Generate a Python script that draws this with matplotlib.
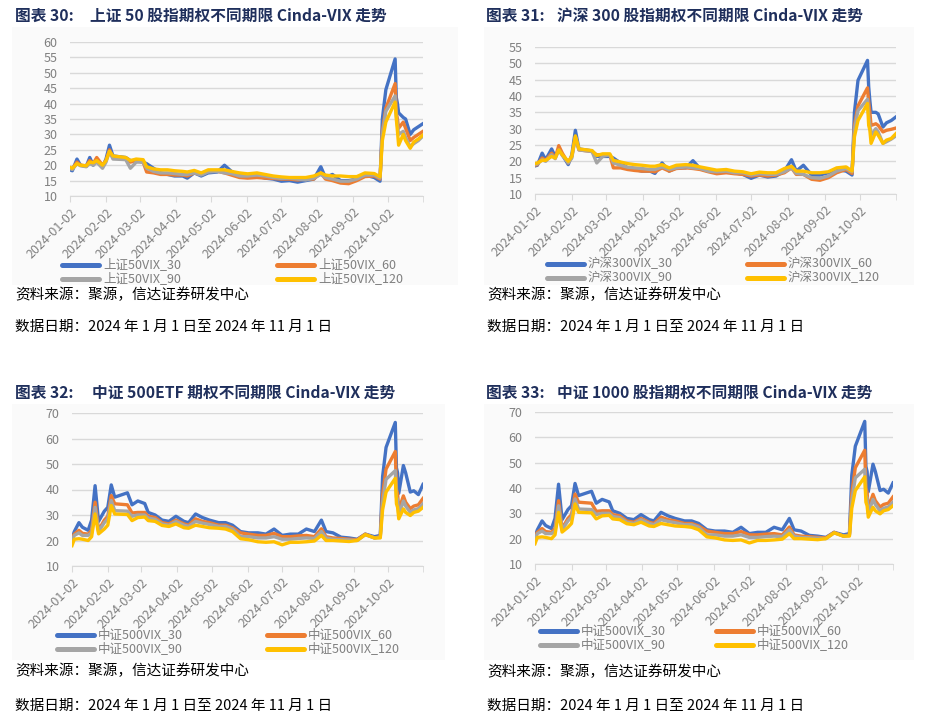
import matplotlib
matplotlib.use("Agg")
import matplotlib.pyplot as plt
import pandas as pd
from matplotlib.lines import Line2D
from matplotlib.patches import Rectangle

plt.rcParams['font.family'] = ['Noto Sans CJK SC', 'DejaVu Sans']

# ---------------- data ----------------
dates = ["2024-01-02", "2024-01-04", "2024-01-08", "2024-01-11", "2024-01-16", "2024-01-19",
         "2024-01-22", "2024-01-25", "2024-01-30", "2024-02-02", "2024-02-05", "2024-02-08",
         "2024-02-19", "2024-02-23", "2024-02-28", "2024-03-05", "2024-03-08", "2024-03-14",
         "2024-03-20", "2024-03-26", "2024-04-01", "2024-04-08", "2024-04-12", "2024-04-18",
         "2024-04-24", "2024-04-30", "2024-05-08", "2024-05-14", "2024-05-20", "2024-05-27",
         "2024-06-03", "2024-06-11", "2024-06-18", "2024-06-25", "2024-07-02", "2024-07-09",
         "2024-07-16", "2024-07-23", "2024-07-30", "2024-08-05", "2024-08-09", "2024-08-15",
         "2024-08-22", "2024-08-29", "2024-09-05", "2024-09-12", "2024-09-20", "2024-09-25",
         "2024-09-27", "2024-09-30", "2024-10-08", "2024-10-09", "2024-10-10", "2024-10-11",
         "2024-10-15", "2024-10-17", "2024-10-21", "2024-10-24", "2024-10-28", "2024-11-01"]

sz50_30 = [18.5, 18.2, 22.0, 20.0, 19.6, 22.5, 20.0, 22.0, 19.5, 22.0, 26.5, 23.0, 22.5, 21.5, 21.5,
           21.0, 20.5, 19.0, 17.5, 17.0, 16.5, 16.5, 15.8, 17.5, 16.5, 17.5, 17.8, 20.0, 18.0, 16.5,
           16.5, 16.5, 15.8, 15.5, 14.8, 15.0, 14.5, 15.0, 15.5, 19.5, 16.0, 17.0, 15.0, 15.0, 15.5,
           16.8, 16.0, 14.8, 35.0, 44.5, 54.5, 42.0, 40.0, 37.0, 35.5, 35.0, 30.0, 31.5, 32.5, 33.5]
sz50_60 = [19.0, 18.8, 21.0, 20.0, 19.8, 21.5, 20.5, 22.5, 20.0, 21.5, 25.0, 22.5, 22.0, 21.0, 21.5,
           21.0, 17.8, 17.5, 17.0, 17.0, 16.8, 16.8, 16.5, 17.5, 17.0, 18.0, 18.0, 17.5, 16.8, 16.0,
           15.8, 16.0, 15.8, 15.7, 15.5, 15.5, 15.2, 15.5, 15.5, 17.5, 15.5, 15.0, 14.2, 14.0, 15.0,
           16.3, 16.5, 15.5, 31.0, 38.5, 46.5, 37.0, 35.0, 32.0, 34.0, 32.0, 28.0, 29.0, 30.0, 31.0]
sz50_90 = [19.0, 18.6, 20.5, 19.8, 19.5, 20.5, 20.0, 21.0, 19.0, 21.0, 24.5, 22.0, 21.8, 19.0, 21.0,
           21.0, 19.0, 18.0, 17.5, 17.5, 17.3, 17.0, 17.0, 17.5, 16.8, 17.8, 18.0, 17.5, 17.3, 16.5,
           16.5, 16.8, 16.5, 16.0, 15.7, 15.8, 15.5, 15.2, 15.8, 17.0, 16.0, 15.5, 14.8, 14.8, 15.5,
           16.8, 16.8, 15.8, 30.0, 37.5, 42.5, 36.0, 33.0, 30.0, 31.0, 29.0, 26.0, 27.0, 28.0, 29.5]
sz50_120 = [19.3, 19.0, 20.5, 20.0, 19.8, 21.0, 20.8, 21.5, 20.0, 21.5, 24.5, 23.0, 22.5, 21.5, 22.0,
            21.8, 19.5, 18.8, 18.5, 18.5, 18.2, 18.0, 17.8, 18.3, 17.5, 18.5, 18.5, 18.5, 18.0, 17.5,
            17.2, 17.5, 17.0, 16.5, 16.2, 16.0, 16.0, 16.0, 16.5, 17.5, 16.8, 16.5, 16.5, 16.3, 16.3,
            17.5, 17.3, 16.2, 28.0, 34.0, 40.5, 35.0, 31.0, 26.5, 30.0, 28.0, 25.5, 27.5, 28.5, 29.8]

hs300_30 = [18.6, 18.8, 22.5, 20.5, 23.8, 21.5, 23.5, 22.0, 19.0, 22.0, 29.5, 23.8, 23.2, 21.5, 21.5,
            21.5, 21.0, 19.5, 18.0, 17.5, 17.0, 17.0, 16.3, 19.5, 17.0, 18.0, 18.0, 20.2, 17.8, 17.0,
            16.8, 17.0, 16.5, 16.0, 14.8, 15.8, 15.2, 15.5, 17.0, 20.5, 17.0, 18.8, 15.8, 15.8, 16.5,
            17.5, 17.0, 15.8, 35.0, 44.8, 50.9, 42.8, 38.5, 35.0, 35.0, 34.5, 30.5, 31.8, 32.5, 33.6]
hs300_60 = [18.8, 19.0, 21.0, 20.3, 22.5, 21.0, 24.8, 22.5, 19.5, 21.5, 27.5, 23.5, 23.0, 22.0, 22.0,
            22.0, 18.0, 18.0, 17.5, 17.2, 17.0, 17.0, 16.8, 18.0, 17.0, 17.8, 18.0, 17.8, 17.5, 16.8,
            16.2, 16.5, 16.2, 16.0, 15.5, 15.8, 15.5, 15.8, 16.5, 18.0, 16.0, 16.0, 14.5, 14.2, 15.0,
            16.5, 17.5, 16.3, 31.0, 37.0, 42.5, 38.0, 35.0, 31.0, 31.5, 31.0, 29.0, 29.5, 29.8, 30.2]
hs300_90 = [19.0, 19.2, 20.5, 20.0, 22.0, 20.8, 23.5, 21.8, 19.5, 21.0, 27.5, 23.5, 23.0, 19.5, 21.5,
            22.0, 19.5, 18.8, 18.2, 18.0, 17.8, 17.5, 17.5, 18.3, 17.5, 18.0, 18.3, 18.0, 17.8, 17.0,
            16.8, 17.0, 16.5, 16.5, 15.8, 16.2, 16.0, 16.0, 16.8, 18.0, 16.3, 16.0, 15.0, 14.8, 15.5,
            17.0, 17.8, 16.8, 30.0, 35.5, 39.0, 34.0, 31.0, 28.0, 30.0, 29.0, 25.5, 26.0, 26.8, 27.8]
hs300_120 = [19.3, 19.5, 20.3, 20.3, 21.5, 21.0, 23.5, 22.0, 20.0, 21.5, 27.8, 23.8, 23.3, 21.8, 22.3,
             22.3, 20.3, 19.8, 19.3, 19.0, 18.8, 18.5, 18.5, 19.0, 18.0, 18.8, 19.0, 18.8, 18.3, 17.8,
             17.3, 17.5, 17.0, 16.8, 16.2, 16.7, 16.5, 16.5, 17.8, 18.5, 17.0, 17.0, 16.5, 16.5, 16.8,
             18.0, 18.3, 17.0, 27.5, 32.5, 37.7, 31.0, 29.5, 25.5, 29.0, 28.0, 25.5, 26.5, 27.0, 28.5]

zz500_30 = [20.7, 23.5, 27.0, 25.2, 24.0, 28.0, 41.5, 27.5, 31.5, 33.0, 41.8, 37.0, 38.7, 34.0, 35.5,
            34.5, 31.0, 30.0, 28.0, 27.5, 29.5, 27.5, 27.0, 30.4, 29.0, 28.0, 27.0, 27.0, 26.0, 23.5,
            23.0, 23.0, 22.5, 24.5, 22.0, 22.5, 22.5, 24.5, 23.5, 28.0, 23.5, 23.0, 21.3, 21.0, 20.5,
            22.5, 21.5, 22.0, 45.0, 56.5, 66.3, 48.5, 46.5, 38.5, 49.4, 46.5, 39.0, 39.5, 38.0, 42.0]
zz500_60 = [21.0, 22.5, 24.0, 22.8, 22.5, 24.0, 35.0, 24.0, 28.0, 29.5, 37.6, 34.4, 34.0, 30.8, 31.0,
            31.0, 29.5, 29.0, 27.0, 26.5, 28.0, 26.5, 26.0, 28.5, 27.5, 27.0, 26.0, 26.0, 25.0, 23.0,
            22.5, 22.0, 22.0, 22.8, 21.5, 21.5, 21.8, 22.0, 21.5, 24.6, 21.5, 21.0, 20.8, 20.5, 20.3,
            22.5, 21.0, 21.5, 38.0, 48.0, 54.9, 40.0, 38.3, 32.0, 37.5, 35.0, 32.5, 33.5, 34.0, 36.5]
zz500_90 = [20.0, 22.0, 23.0, 22.0, 22.0, 23.0, 33.0, 23.5, 27.0, 28.5, 35.7, 31.7, 31.5, 29.5, 30.0,
            30.0, 28.8, 28.3, 26.5, 26.0, 27.5, 26.0, 25.5, 27.5, 26.8, 26.3, 25.5, 25.5, 24.5, 21.5,
            21.5, 21.0, 21.0, 21.5, 20.5, 20.5, 20.8, 21.0, 20.8, 23.5, 21.0, 20.5, 20.3, 20.2, 20.0,
            22.3, 21.0, 21.3, 35.0, 44.0, 47.4, 37.0, 36.0, 30.0, 35.5, 33.5, 31.0, 32.0, 32.5, 34.4]
zz500_120 = [18.0, 20.5, 20.7, 20.5, 20.0, 21.5, 30.4, 22.6, 24.5, 26.0, 33.7, 30.4, 30.2, 27.8, 29.0,
             29.2, 27.8, 27.5, 25.9, 25.5, 26.5, 25.0, 24.8, 26.0, 25.5, 25.0, 24.8, 24.5, 23.5, 20.7,
             20.3, 19.5, 19.3, 19.5, 18.3, 19.3, 19.3, 19.5, 19.8, 22.0, 20.0, 20.0, 19.8, 19.6, 20.0,
             22.3, 21.0, 21.0, 32.0, 39.0, 44.4, 34.4, 33.0, 28.5, 32.4, 31.0, 29.8, 31.0, 31.5, 33.0]

tick_labels = ["2024-01-02", "2024-02-02", "2024-03-02", "2024-04-02", "2024-05-02",
               "2024-06-02", "2024-07-02", "2024-08-02", "2024-09-02", "2024-10-02"]

titles_num = ["图表 30:", "图表 31:", "图表 32:", "图表 33:"]
titles_txt = ["上证 50 股指期权不同期限 Cinda-VIX 走势", "沪深 300 股指期权不同期限 Cinda-VIX 走势",
              "中证 500ETF 期权不同期限 Cinda-VIX 走势", "中证 1000 股指期权不同期限 Cinda-VIX 走势"]
legend_names = [["上证50VIX_30", "上证50VIX_60", "上证50VIX_90", "上证50VIX_120"],
                ["沪深300VIX_30", "沪深300VIX_60", "沪深300VIX_90", "沪深300VIX_120"],
                ["中证500VIX_30", "中证500VIX_60", "中证500VIX_90", "中证500VIX_120"],
                ["中证500VIX_30", "中证500VIX_60", "中证500VIX_90", "中证500VIX_120"]]
source_text = "资料来源：聚源，信达证券研发中心"
date_text = "数据日期：2024 年 1 月 1 日至 2024 年 11 月 1 日"

# ---------------- layout ----------------
W, H = 928, 727
colors = ["#4472C4", "#ED7D31", "#A5A5A5", "#FFC000"]
x = pd.to_datetime(dates)

panels = [
    dict(series=[sz50_30, sz50_60, sz50_90, sz50_120], ylim=(10, 60), step=5,
         ax=(70, 423, 42, 196), title=(15, 90, 16), bg=(12, 458, 27, 285),
         leg=(62, 277, 265, 279), src=(15, 295, 327)),
    dict(series=[hs300_30, hs300_60, hs300_90, hs300_120], ylim=(10, 55), step=5,
         ax=(535, 896, 47, 194), title=(486, 557, 16), bg=(484, 914, 27, 285),
         leg=(547, 747, 264, 278), src=(487, 295, 327)),
    dict(series=[zz500_30, zz500_60, zz500_90, zz500_120], ylim=(10, 70), step=10,
         ax=(72, 423, 413, 566), title=(15, 92, 393), bg=(12, 445, 404, 660),
         leg=(57, 267, 635, 649), src=(15, 671, 706)),
    dict(series=[zz500_30, zz500_60, zz500_90, zz500_120], ylim=(10, 70), step=10,
         ax=(535, 893, 412, 564), title=(486, 557, 393), bg=(484, 914, 404, 660),
         leg=(540, 716, 631, 645), src=(487, 672, 706)),
]

fig = plt.figure(figsize=(W / 100, H / 100), dpi=100)
fig.patch.set_facecolor("white")

def fx(px):
    return px / W

def fy(py):
    return 1 - py / H

title_color = "#1F2F5C"
tick_color = "#808080"
grid_color = "#D9D9D9"

for i, p in enumerate(panels):
    bx0, bx1, by0, by1 = p["bg"]
    fig.add_artist(Rectangle((fx(bx0), fy(by1)), fx(bx1) - fx(bx0), fy(by0) - fy(by1),
                             transform=fig.transFigure, facecolor="#FAFAFA", edgecolor="none", zorder=0))
    x0, x1, y0, y1 = p["ax"]
    ax = fig.add_axes([fx(x0), fy(y1), fx(x1) - fx(x0), fy(y0) - fy(y1)])
    ax.set_facecolor("none")
    for s, c in zip(p["series"], colors):
        ax.plot(x, s, color=c, lw=2.4, solid_joinstyle="round", zorder=3)
    lo, hi = p["ylim"]
    ax.set_ylim(lo, hi)
    ax.set_yticks(list(range(lo, hi + 1, p["step"])))
    ax.set_xlim(pd.Timestamp("2024-01-02"), pd.Timestamp("2024-11-01"))
    ax.set_xticks(pd.to_datetime(tick_labels))
    ax.set_xticklabels(tick_labels, rotation=45, ha="right", va="top", rotation_mode="anchor",
                       fontsize=9, color=tick_color)
    ax.set_xticks([pd.Timestamp("2024-11-01")], minor=True)
    for lab in ax.get_yticklabels():
        lab.set_fontsize(9)
        lab.set_color(tick_color)
    ax.tick_params(axis="x", which="both", direction="out", length=4, color=grid_color, pad=3)
    ax.tick_params(axis="y", length=0, pad=9)
    ax.grid(axis="y", color=grid_color, lw=1.0)
    ax.set_axisbelow(True)
    for sp in ["top", "left", "right"]:
        ax.spines[sp].set_visible(False)
    ax.spines["bottom"].set_color(grid_color)

    tx0, tx1, ty = p["title"]
    fig.text(fx(tx0), fy(ty), titles_num[i], fontsize=11.3, fontweight="bold", color=title_color,
             va="center", ha="left")
    fig.text(fx(tx1), fy(ty), titles_txt[i], fontsize=11.3, fontweight="bold", color=title_color,
             va="center", ha="left")

    lx0, lx1, ly0, ly1 = p["leg"]
    names = legend_names[i]
    entries = [(lx0, ly0, 0), (lx1, ly0, 1), (lx0, ly1, 2), (lx1, ly1, 3)]
    for ex, ey, k in entries:
        fig.add_artist(Line2D([fx(ex), fx(ex + 37)], [fy(ey), fy(ey)], transform=fig.transFigure,
                              color=colors[k], lw=3.6, solid_capstyle="round"))
        fig.text(fx(ex + 41), fy(ey), names[k], fontsize=9.0, color="#7F7F7F", va="center", ha="left")

    sx, sy1, sy2 = p["src"]
    fig.text(fx(sx), fy(sy1), source_text, fontsize=10.5, color="black", va="center", ha="left")
    fig.text(fx(sx), fy(sy2), date_text, fontsize=10.5, color="black", va="center", ha="left")

fig.savefig("out.png", dpi=100, facecolor="white")
